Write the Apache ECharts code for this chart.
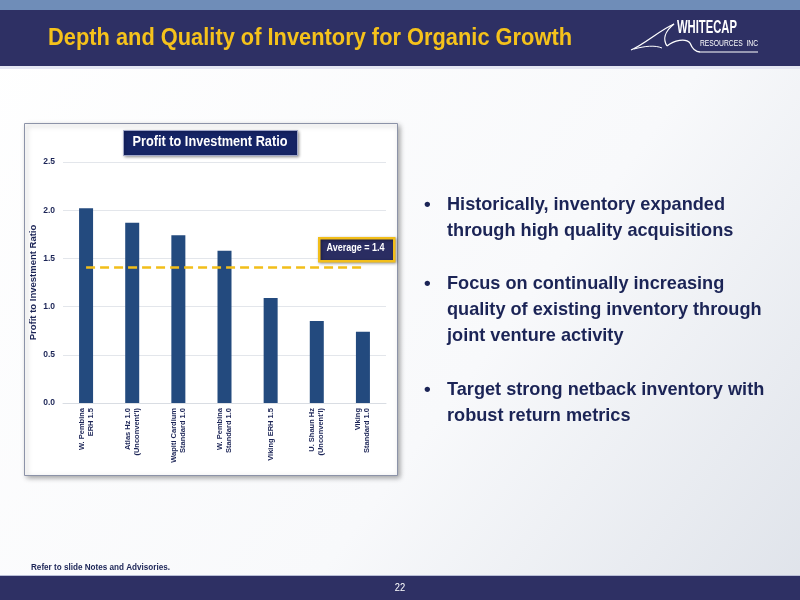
<!DOCTYPE html>
<html>
<head>
<meta charset="utf-8">
<script src="https://cdn.jsdelivr.net/npm/echarts@6/dist/echarts.min.js"></script>
<style>
html,body{margin:0;padding:0;background:#fff;}
#main{width:800px;height:600px;}
</style>
</head>
<body>
<div id="main"></div>
<script>
const categories = ['W. Pembina\nERH 1.5', 'Atlas Hz 1.0\n(Unconvent\'l)', 'Wapiti Cardium\nStandard 1.0', 'W. Pembina\nStandard 1.0', 'Viking ERH 1.5', 'U. Shaun Hz\n(Unconvent\'l)', 'Viking\nStandard 1.0'];
const ratioValues = [2.02, 1.87, 1.74, 1.58, 1.09, 0.85, 0.74];
const averageValue = 1.41;
const averageLabel = 'Average = 1.4';
const yTicks = [0, 0.5, 1.0, 1.5, 2.0, 2.5];
const bullets = [
  ['Historically, inventory expanded', 'through high quality acquisitions'],
  ['Focus on continually increasing', 'quality of existing inventory through', 'joint venture activity'],
  ['Target strong netback inventory with', 'robust return metrics']
];

const NAVY = '#2E3064';
const TEXT = '#1B2456';
const BAR = '#234A7E';
const FONT = "'Liberation Sans', Arial, sans-serif";

const mctx = document.createElement('canvas').getContext('2d');
function measure(text, size, weight) {
  mctx.font = weight + ' ' + size + 'px ' + FONT;
  return mctx.measureText(text).width;
}
// text element; if fitWidth given, horizontally compress to that width (condensed typeface look)
function txt(x, y, text, color, size, weight, opts) {
  opts = opts || {};
  let sx = 1;
  if (opts.fitWidth) sx = opts.fitWidth / measure(text, size, weight);
  if (opts.scaleX) sx = opts.scaleX;
  return {
    type: 'text', x: x, y: y, scaleX: sx, z: opts.z || 5,
    style: {text: text, fill: color, fontSize: size, fontWeight: weight, fontFamily: FONT,
            textAlign: opts.align || 'left', textVerticalAlign: 'middle'}
  };
}

const chart = echarts.init(document.getElementById('main'), null, {renderer: 'canvas'});

const bulletGraphics = [];
const bulletTop = [205, 284, 390];
const bulletScale = 278 / measure(bullets[0][0], 19, 'bold');
bullets.forEach((lines, i) => {
  bulletGraphics.push(txt(424, bulletTop[i], '•', TEXT, 19, 'bold'));
  lines.forEach((ln, j) => {
    bulletGraphics.push(txt(447, bulletTop[i] + j * 26, ln, TEXT, 19, 'bold', {scaleX: bulletScale}));
  });
});

const W = '#ffffff';
const logo = [
  {type: 'bezierCurve', shape: {x1: 631, y1: 50, cpx1: 645, cpy1: 44, cpx2: 660, cpy2: 30, x2: 674, y2: 24}, style: {stroke: W, fill: null, lineWidth: 1.3}},
  {type: 'bezierCurve', shape: {x1: 674, y1: 24, cpx1: 664, cpy1: 32, cpx2: 663, cpy2: 40, x2: 667, y2: 46}, style: {stroke: W, fill: null, lineWidth: 1.3}},
  {type: 'bezierCurve', shape: {x1: 667, y1: 46, cpx1: 674, cpy1: 40, cpx2: 686, cpy2: 38, x2: 690, y2: 43}, style: {stroke: W, fill: null, lineWidth: 1.3}},
  {type: 'bezierCurve', shape: {x1: 690, y1: 43, cpx1: 692, cpy1: 48, cpx2: 695, cpy2: 52, x2: 700, y2: 52}, style: {stroke: W, fill: null, lineWidth: 1.3}},
  {type: 'bezierCurve', shape: {x1: 634, y1: 49, cpx1: 645, cpy1: 46, cpx2: 655, cpy2: 45, x2: 662, y2: 48}, style: {stroke: W, fill: null, lineWidth: 1}},
  {type: 'line', shape: {x1: 700, y1: 52, x2: 758, y2: 52}, style: {stroke: W, lineWidth: 1.2}},
  txt(677, 28.5, 'WHITECAP', W, 18, 'bold', {fitWidth: 60}),
  txt(700, 43, 'RESOURCES  INC', W, 9.5, 'normal', {fitWidth: 58})
];

const option = {
  backgroundColor: {
    type: 'linear', x: 0, y: 0, x2: 1, y2: 1,
    colorStops: [{offset: 0, color: '#ffffff'}, {offset: 0.6, color: '#f8f9fb'}, {offset: 1, color: '#dfe3ea'}]
  },
  animation: false,
  grid: {left: 63, right: 414, top: 162, bottom: 197, containLabel: false},
  xAxis: {
    type: 'category',
    data: categories,
    axisLine: {show: true, lineStyle: {color: '#d9dde3', width: 1}},
    axisTick: {show: false},
    axisLabel: {
      rotate: 90, interval: 0, margin: 5,
      color: TEXT, fontWeight: 'bold', fontSize: 7.5, fontFamily: FONT, lineHeight: 9
    }
  },
  yAxis: {
    type: 'value', min: 0, max: 2.5, interval: 0.5,
    name: 'Profit to Investment Ratio', nameLocation: 'middle', nameGap: 25,
    nameTextStyle: {color: TEXT, fontWeight: 'bold', fontSize: 9.5, fontFamily: FONT},
    axisLine: {show: false}, axisTick: {show: false},
    axisLabel: {
      color: TEXT, fontWeight: 'bold', fontSize: 8.5, fontFamily: FONT, margin: 8,
      formatter: v => yTicks.includes(v) ? v.toFixed(1) : ''
    },
    splitLine: {lineStyle: {color: '#e3e6eb', width: 1}}
  },
  series: [{
    type: 'bar',
    data: ratioValues,
    barWidth: 14,
    itemStyle: {color: BAR},
    markLine: {
      symbol: 'none', silent: true,
      label: {show: false},
      lineStyle: {color: '#F2BE1A', type: [9, 5], width: 2.5},
      data: [[{coord: [0, averageValue]}, {coord: [categories.length - 1, averageValue]}]]
    }
  }],
  graphic: [
    {type: 'rect', left: 0, top: 0, z: -10, shape: {width: 800, height: 10}, style: {fill: '#6F8DB8'}},
    {type: 'rect', left: 0, top: 10, z: -10, shape: {width: 800, height: 56}, style: {fill: NAVY}},
    {type: 'rect', left: 0, top: 66, z: -10, shape: {width: 800, height: 3}, style: {fill: '#E4E6F2'}},
    txt(48, 38.5, 'Depth and Quality of Inventory for Organic Growth', '#F5C21B', 24.5, 'bold', {fitWidth: 524}),
    {type: 'rect', left: 24, top: 123, z: -5, shape: {width: 373, height: 352}, style: {fill: '#ffffff', stroke: '#8C93A8', lineWidth: 1, shadowBlur: 5, shadowOffsetX: 2, shadowOffsetY: 2, shadowColor: 'rgba(0,0,0,0.35)'}},
    {type: 'rect', left: 123, top: 130, z: 10, shape: {width: 174, height: 25}, style: {fill: '#152465', stroke: '#9FA6C8', lineWidth: 1, shadowBlur: 3, shadowOffsetX: 1, shadowOffsetY: 1, shadowColor: 'rgba(0,0,0,0.4)'}},
    txt(210, 142.5, 'Profit to Investment Ratio', W, 14, 'bold', {align: 'center', fitWidth: 155, z: 11}),
    {type: 'rect', left: 318, top: 237, z: 10, shape: {width: 75, height: 23}, style: {fill: '#2A2D62', stroke: '#F2BE1A', lineWidth: 2.5, shadowBlur: 3, shadowOffsetX: 1, shadowOffsetY: 1, shadowColor: 'rgba(0,0,0,0.4)'}},
    txt(355.5, 248.5, averageLabel, W, 10.5, 'bold', {align: 'center', fitWidth: 58, z: 11}),
    txt(31, 568, 'Refer to slide Notes and Advisories.', TEXT, 9, 'bold', {fitWidth: 139}),
    {type: 'rect', left: 0, top: 576, z: -10, shape: {width: 800, height: 24}, style: {fill: NAVY}},
    {type: 'rect', left: 0, top: 575, z: -10, shape: {width: 800, height: 1}, style: {fill: '#B9BED6'}},
    txt(400, 588, '22', W, 11, 'normal', {align: 'center', scaleX: 0.85})
  ].concat(logo).concat(bulletGraphics)
};
chart.setOption(option);
</script>
</body>
</html>
